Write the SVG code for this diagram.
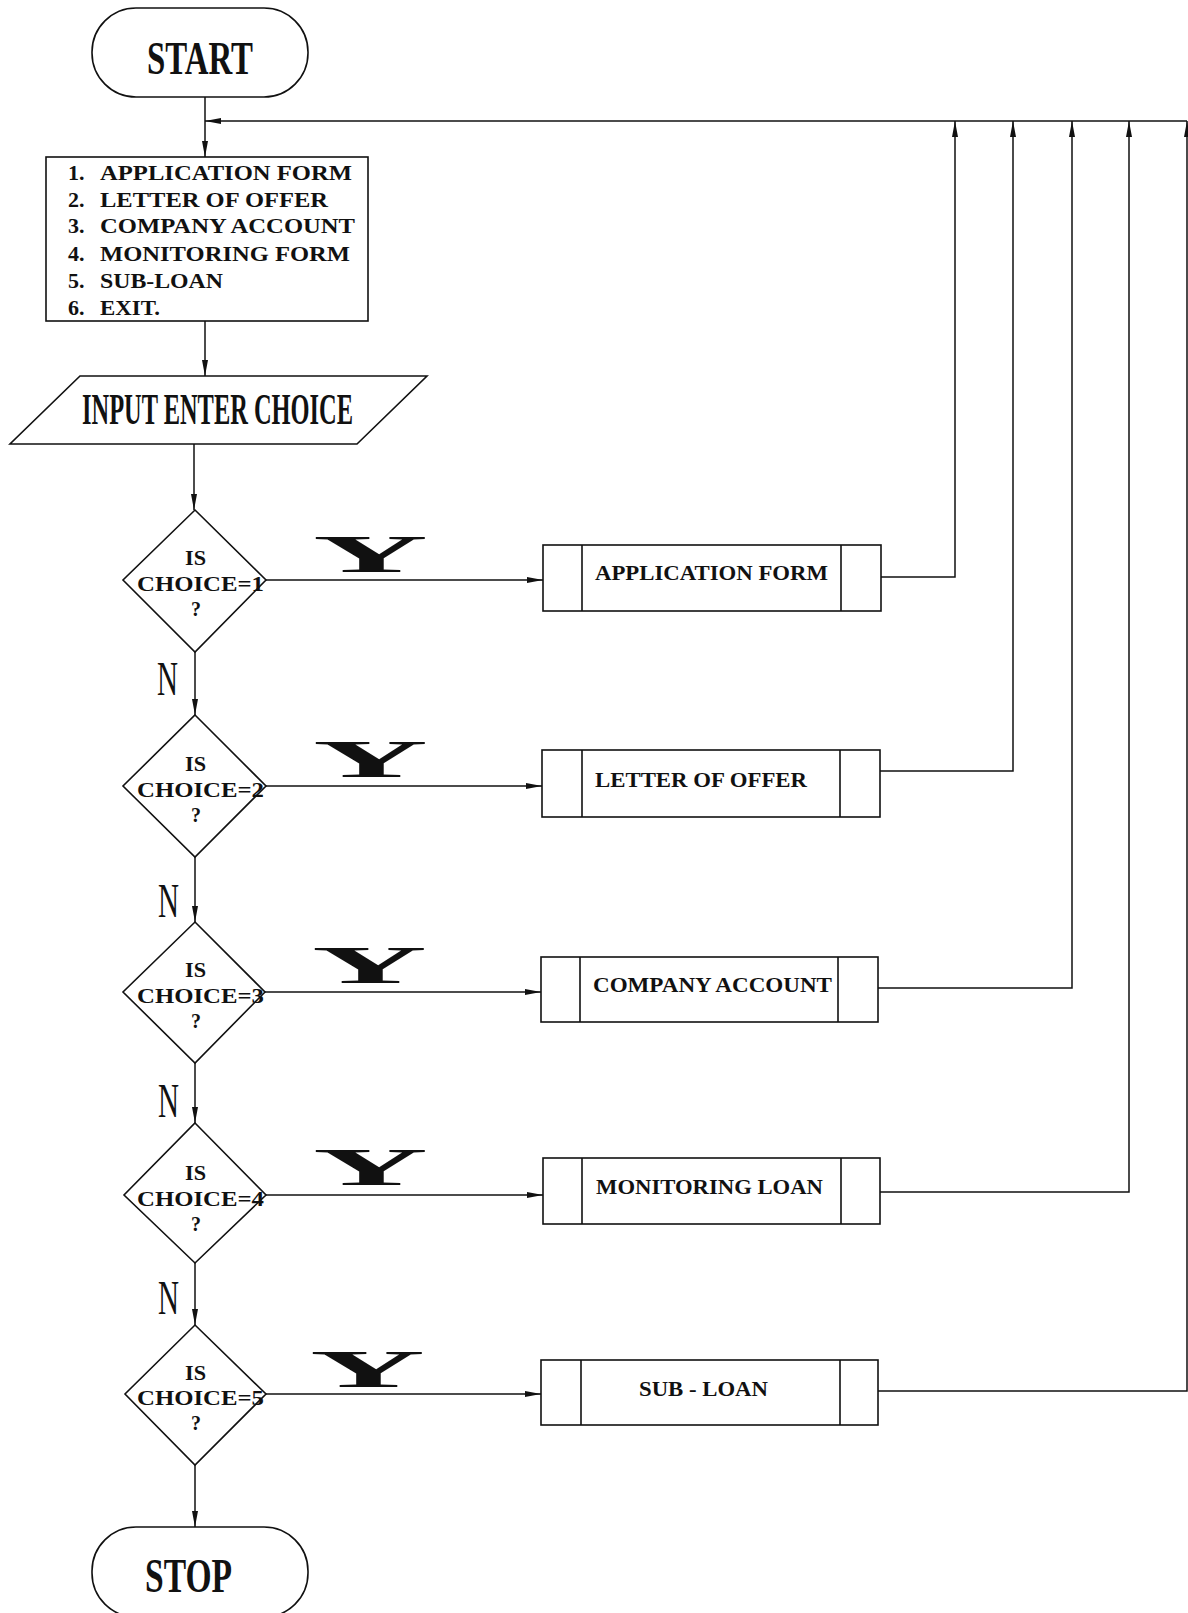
<svg xmlns="http://www.w3.org/2000/svg" width="1188" height="1613" viewBox="0 0 1188 1613">
<style>
.s{fill:none;stroke:#111;stroke-width:1.6}
.w{fill:#fff;stroke:#111;stroke-width:1.6}
.c{fill:none;stroke:#111;stroke-width:1.5}
.big{font-family:"Liberation Serif",serif;font-weight:bold;fill:#111}
.b{font-family:"Liberation Serif",serif;font-weight:bold;fill:#111}
.n{font-family:"Liberation Serif",serif;fill:#111}
</style>
<defs>
<marker id="ah" markerUnits="userSpaceOnUse" markerWidth="16" markerHeight="8" refX="16" refY="4" orient="auto">
<path d="M0,1 L16,4 L0,7 z" fill="#111"/>
</marker>
</defs>
<rect width="1188" height="1613" fill="#fff"/>

<g id="connectors">
<path class="c" d="M205,97 V157" marker-end="url(#ah)"/>
<path class="c" d="M205,321 V376" marker-end="url(#ah)"/>
<path class="c" d="M194,444 V510" marker-end="url(#ah)"/>
<path class="c" d="M195,652 V715" marker-end="url(#ah)"/>
<path class="c" d="M195,857 V922" marker-end="url(#ah)"/>
<path class="c" d="M195,1063 V1123" marker-end="url(#ah)"/>
<path class="c" d="M195,1263 V1325" marker-end="url(#ah)"/>
<path class="c" d="M195,1465 V1527" marker-end="url(#ah)"/>
<path class="c" d="M266,580 H543" marker-end="url(#ah)"/>
<path class="c" d="M266,786 H542" marker-end="url(#ah)"/>
<path class="c" d="M265,992 H541" marker-end="url(#ah)"/>
<path class="c" d="M266,1195 H543" marker-end="url(#ah)"/>
<path class="c" d="M266,1394 H541" marker-end="url(#ah)"/>
<path class="c" d="M881,577 H955 V121" marker-end="url(#ah)"/>
<path class="c" d="M880,771 H1013 V121" marker-end="url(#ah)"/>
<path class="c" d="M878,988 H1072 V121" marker-end="url(#ah)"/>
<path class="c" d="M880,1192 H1129 V121" marker-end="url(#ah)"/>
<path class="c" d="M878,1391 H1187 V121" marker-end="url(#ah)"/>
<path class="c" d="M1187,121 H205" marker-end="url(#ah)"/>
</g>

<g id="start">
<rect class="w" x="92" y="8" width="216" height="89" rx="44" ry="44"/>
<text class="big" x="147" y="74" font-size="47" textLength="106" lengthAdjust="spacingAndGlyphs">START</text>
</g>

<g id="menu">
<rect class="w" x="46" y="157" width="322" height="164"/>
<g class="b" font-size="22">
<text x="68" y="180">1.</text><text x="100" y="180" textLength="252" lengthAdjust="spacingAndGlyphs">APPLICATION FORM</text>
<text x="68" y="207">2.</text><text x="100" y="207" textLength="228" lengthAdjust="spacingAndGlyphs">LETTER OF OFFER</text>
<text x="68" y="233">3.</text><text x="100" y="233" textLength="255" lengthAdjust="spacingAndGlyphs">COMPANY ACCOUNT</text>
<text x="68" y="261">4.</text><text x="100" y="261" textLength="250" lengthAdjust="spacingAndGlyphs">MONITORING FORM</text>
<text x="68" y="288">5.</text><text x="100" y="288" textLength="123" lengthAdjust="spacingAndGlyphs">SUB-LOAN</text>
<text x="68" y="315">6.</text><text x="100" y="315" textLength="60" lengthAdjust="spacingAndGlyphs">EXIT.</text>
</g>
</g>

<g id="input">
<polygon class="w" points="80,376 427,376 357,444 10,444"/>
<text class="big" x="82" y="424" font-size="45" textLength="271" lengthAdjust="spacingAndGlyphs">INPUT ENTER CHOICE</text>
</g>

<g id="dec1">
<polygon class="w" points="195,510 266,580 195,652 123,580"/>
<text class="b" x="185" y="565" font-size="20" textLength="21" lengthAdjust="spacingAndGlyphs">IS</text>
<text class="b" x="137" y="591" font-size="20" textLength="127" lengthAdjust="spacingAndGlyphs">CHOICE=1</text>
<text class="b" x="191" y="616" font-size="20">?</text>
</g>
<g id="dec2">
<polygon class="w" points="195,715 266,786 195,857 123,786"/>
<text class="b" x="185" y="771" font-size="20" textLength="21" lengthAdjust="spacingAndGlyphs">IS</text>
<text class="b" x="137" y="797" font-size="20" textLength="127" lengthAdjust="spacingAndGlyphs">CHOICE=2</text>
<text class="b" x="191" y="822" font-size="20">?</text>
</g>
<g id="dec3">
<polygon class="w" points="195,922 265,992 195,1063 123,992"/>
<text class="b" x="185" y="977" font-size="20" textLength="21" lengthAdjust="spacingAndGlyphs">IS</text>
<text class="b" x="137" y="1003" font-size="20" textLength="127" lengthAdjust="spacingAndGlyphs">CHOICE=3</text>
<text class="b" x="191" y="1028" font-size="20">?</text>
</g>
<g id="dec4">
<polygon class="w" points="195,1123 266,1195 195,1263 124,1195"/>
<text class="b" x="185" y="1180" font-size="20" textLength="21" lengthAdjust="spacingAndGlyphs">IS</text>
<text class="b" x="137" y="1206" font-size="20" textLength="127" lengthAdjust="spacingAndGlyphs">CHOICE=4</text>
<text class="b" x="191" y="1231" font-size="20">?</text>
</g>
<g id="dec5">
<polygon class="w" points="195,1325 266,1394 195,1465 125,1394"/>
<text class="b" x="185" y="1380" font-size="20" textLength="21" lengthAdjust="spacingAndGlyphs">IS</text>
<text class="b" x="137" y="1405" font-size="20" textLength="127" lengthAdjust="spacingAndGlyphs">CHOICE=5</text>
<text class="b" x="191" y="1430" font-size="20">?</text>
</g>

<g id="labels">
<text class="big" font-size="53" transform="translate(313,572) scale(3,1)">Y</text>
<text class="big" font-size="53" transform="translate(313,777) scale(3,1)">Y</text>
<text class="big" font-size="53" transform="translate(312,983) scale(3,1)">Y</text>
<text class="big" font-size="53" transform="translate(313,1185) scale(3,1)">Y</text>
<text class="big" font-size="53" transform="translate(310,1387) scale(3,1)">Y</text>
<text class="n" x="157" y="695" font-size="48" textLength="21" lengthAdjust="spacingAndGlyphs">N</text>
<text class="n" x="158" y="917" font-size="48" textLength="21" lengthAdjust="spacingAndGlyphs">N</text>
<text class="n" x="158" y="1117" font-size="48" textLength="21" lengthAdjust="spacingAndGlyphs">N</text>
<text class="n" x="158" y="1314" font-size="48" textLength="21" lengthAdjust="spacingAndGlyphs">N</text>
</g>

<g id="proc1">
<rect class="w" x="543" y="545" width="338" height="66"/>
<path class="s" d="M582,545 V611 M841,545 V611"/>
<text class="b" x="595" y="580" font-size="22" textLength="233" lengthAdjust="spacingAndGlyphs">APPLICATION FORM</text>
</g>
<g id="proc2">
<rect class="w" x="542" y="750" width="338" height="67"/>
<path class="s" d="M582,750 V817 M840,750 V817"/>
<text class="b" x="595" y="787" font-size="22" textLength="212" lengthAdjust="spacingAndGlyphs">LETTER OF OFFER</text>
</g>
<g id="proc3">
<rect class="w" x="541" y="957" width="337" height="65"/>
<path class="s" d="M580,957 V1022 M838,957 V1022"/>
<text class="b" x="593" y="992" font-size="22" textLength="239" lengthAdjust="spacingAndGlyphs">COMPANY ACCOUNT</text>
</g>
<g id="proc4">
<rect class="w" x="543" y="1158" width="337" height="66"/>
<path class="s" d="M582,1158 V1224 M841,1158 V1224"/>
<text class="b" x="596" y="1194" font-size="22" textLength="227" lengthAdjust="spacingAndGlyphs">MONITORING LOAN</text>
</g>
<g id="proc5">
<rect class="w" x="541" y="1360" width="337" height="65"/>
<path class="s" d="M581,1360 V1425 M840,1360 V1425"/>
<text class="b" x="639" y="1396" font-size="22" textLength="129" lengthAdjust="spacingAndGlyphs">SUB - LOAN</text>
</g>

<g id="stop">
<rect class="w" x="92" y="1527" width="216" height="90" rx="44" ry="44"/>
<text class="big" x="145" y="1592" font-size="48" textLength="87" lengthAdjust="spacingAndGlyphs">STOP</text>
</g>
</svg>
